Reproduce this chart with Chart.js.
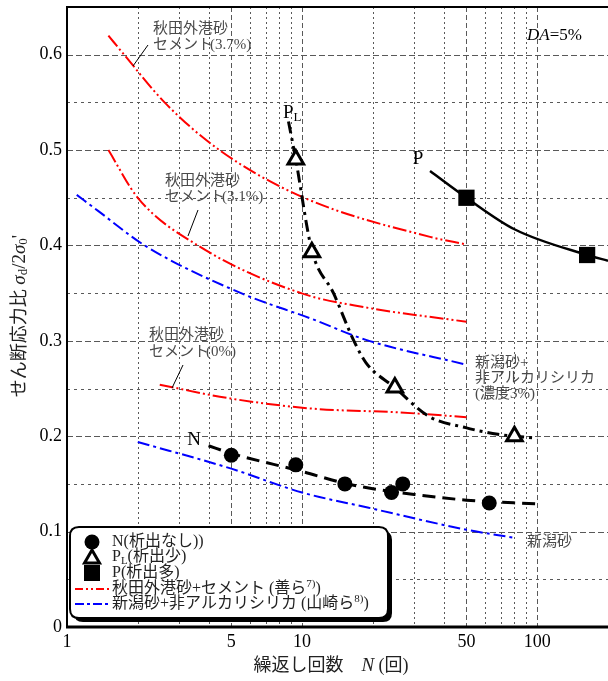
<!DOCTYPE html>
<html>
<head>
<meta charset="utf-8">
<script src="https://cdn.jsdelivr.net/npm/chart.js@4/dist/chart.umd.min.js"></script>
<style>
html, body { margin: 0; padding: 0; background: #fff; }
canvas { display: block; }
</style>
</head>
<body>
<canvas id="c" width="608" height="681"></canvas>
<script>
// ---- Axis ticks and grid positions ----
const tickN = [1, 5, 10, 50, 100];
const tickR = [0, 0.1, 0.2, 0.3, 0.4, 0.5, 0.6];
const gridMajorN = [5, 10, 50, 100];
const gridMinorN = [2, 3, 4, 6, 7, 8, 9, 20, 30, 40, 60, 70, 80, 90];
const gridMajorR = [0.1, 0.2, 0.3, 0.4, 0.5, 0.6];
const gridMinorR = [0.05, 0.15, 0.25, 0.35, 0.45, 0.55];

// ---- Test results: cycles N and stress ratio ----
const nPtsN = [5, 9.4, 15.2, 24, 26.8, 62.5];
const nPtsR = [0.18, 0.17, 0.15, 0.141, 0.15, 0.13];
const plPtsN = [9.4, 11, 24.8, 80];
const plPtsR = [0.49, 0.393, 0.251, 0.2];
const pPtsN = [50, 163];
const pPtsR = [0.45, 0.39];

// ---- Trend curves through the results ----
const nCurveN = [4, 5, 10, 15, 20, 30, 50, 100];
const nCurveR = [0.19, 0.182, 0.163, 0.151, 0.145, 0.139, 0.133, 0.129];
const plCurveN = [8.75, 9.4, 11, 13.6, 16.6, 18.7, 24.8, 34.5, 49.6, 68, 100];
const plCurveR = [0.53, 0.49, 0.395, 0.35, 0.3, 0.277, 0.251, 0.221, 0.209, 0.202, 0.198];
const pCurveN = [35, 50, 80, 163, 200];
const pCurveR = [0.478, 0.45, 0.417, 0.39, 0.384];

// ---- Akita port sand + cement (Zen et al.) ----
const akita37N = [1.5, 1.75, 2.6, 4.45, 10.2, 35, 50];
const akita37R = [0.62, 0.6, 0.55, 0.5, 0.45, 0.409, 0.401];
const akita31N = [1.5, 2.0, 3.6, 9.9, 18.7, 50];
const akita31R = [0.5, 0.45, 0.4, 0.35, 0.335, 0.32];
const akita0N = [2.48, 4.83, 11, 25.8, 50];
const akita0R = [0.254, 0.24, 0.229, 0.225, 0.22];

// ---- Niigata sand + non-alkali silica (Yamasaki et al.) ----
const niigata3N = [1.1, 1.36, 2.14, 5.5, 11, 18.7, 50];
const niigata3R = [0.453, 0.436, 0.4, 0.35, 0.323, 0.301, 0.275];
const niigataN = [2.0, 5, 10, 19.2, 50, 80];
const niigataR = [0.194, 0.166, 0.141, 0.125, 0.102, 0.0935];

const pts = (xs, ys) => xs.map((x, i) => ({ x: x, y: ys[i] }));

const SERIF = '"Liberation Serif", "Noto Sans CJK JP", serif';
const RED = '#ff0000';
const BLUE = '#0000ff';
const redDash = [14, 3, 2, 3, 2, 3];
const blueDash = [12, 4, 3, 4];

function curve(data, color, dash, width) {
  return {
    data: data, showLine: true, pointRadius: 0, borderColor: color,
    borderWidth: width, borderDash: dash, fill: false,
    cubicInterpolationMode: 'monotone'
  };
}

// draw consecutive text runs [text, font, dy]
function drawRuns(ctx, x, y, parts, align) {
  let w = 0;
  parts.forEach(p => { ctx.font = p[1]; w += ctx.measureText(p[0]).width; });
  let cx = align === 'center' ? x - w / 2 : x;
  ctx.textAlign = 'left';
  parts.forEach(p => {
    ctx.font = p[1];
    ctx.fillText(p[0], cx, y + (p[2] || 0));
    cx += ctx.measureText(p[0]).width;
  });
}

function line(ctx, x1, y1, x2, y2) {
  ctx.beginPath(); ctx.moveTo(x1, y1); ctx.lineTo(x2, y2); ctx.stroke();
}

function roundRect(ctx, x, y, w, h, r) {
  ctx.beginPath();
  ctx.moveTo(x + r, y);
  ctx.lineTo(x + w - r, y); ctx.quadraticCurveTo(x + w, y, x + w, y + r);
  ctx.lineTo(x + w, y + h - r); ctx.quadraticCurveTo(x + w, y + h, x + w - r, y + h);
  ctx.lineTo(x + r, y + h); ctx.quadraticCurveTo(x, y + h, x, y + h - r);
  ctx.lineTo(x, y + r); ctx.quadraticCurveTo(x, y, x + r, y);
  ctx.closePath();
}

const gridPlugin = {
  id: 'gridPlugin',
  beforeDatasetsDraw(chart) {
    const { ctx, chartArea: a, scales: { x, y } } = chart;
    ctx.save();
    ctx.strokeStyle = '#595959';
    ctx.lineWidth = 1;
    ctx.setLineDash([2, 3]);
    gridMinorN.forEach(v => { const px = Math.round(x.getPixelForValue(v)) + 0.5; line(ctx, px, a.top, px, a.bottom); });
    ctx.setLineDash([5, 3]);
    gridMajorN.forEach(v => { const px = Math.round(x.getPixelForValue(v)) + 0.5; line(ctx, px, a.top, px, a.bottom); });
    ctx.setLineDash([3, 4]);
    gridMinorR.forEach(v => { const py = Math.round(y.getPixelForValue(v)) + 0.5; line(ctx, a.left, py, a.right, py); });
    ctx.setLineDash([6, 3]);
    gridMajorR.forEach(v => { const py = Math.round(y.getPixelForValue(v)) + 0.5; line(ctx, a.left, py, a.right, py); });
    ctx.restore();
  },
  afterDatasetsDraw(chart) {
    const { ctx, chartArea: a } = chart;
    ctx.save();
    // frame
    ctx.setLineDash([]);
    ctx.strokeStyle = '#000';
    ctx.lineWidth = 2;
    line(ctx, a.left, a.top, a.right, a.top);
    line(ctx, a.left, a.top - 1, a.left, a.bottom);
    ctx.lineWidth = 3;
    line(ctx, a.left - 1, a.bottom, a.right, a.bottom);

    ctx.textBaseline = 'middle';
    // curve annotations
    ctx.fillStyle = '#4a4a4a';
    const jf = '15px ' + SERIF;
    drawRuns(ctx, 153, 29, [['秋田外港砂', jf]]);
    drawRuns(ctx, 153, 45, [['セメント', jf]]);
    drawRuns(ctx, 210, 45, [['(3.7%)', jf]]);
    drawRuns(ctx, 165, 181, [['秋田外港砂', jf]]);
    drawRuns(ctx, 165, 197, [['セメント', jf]]);
    drawRuns(ctx, 222, 197, [['(3.1%)', jf]]);
    drawRuns(ctx, 149, 335, [['秋田外港砂', jf]]);
    drawRuns(ctx, 149, 352, [['セメント', jf]]);
    drawRuns(ctx, 206, 352, [['(0%)', jf]]);
    drawRuns(ctx, 475, 363, [['新潟砂+', jf]]);
    drawRuns(ctx, 475, 378, [['非アルカリシリカ', jf]]);
    drawRuns(ctx, 475, 394, [['(濃度3%)', jf]]);
    drawRuns(ctx, 527, 542, [['新潟砂', jf]]);

    ctx.strokeStyle = '#000';
    ctx.lineWidth = 1;
    line(ctx, 148, 45, 133, 66);
    line(ctx, 198, 210, 188, 236);
    line(ctx, 183, 365, 172, 388);

    // series labels
    ctx.fillStyle = '#000';
    drawRuns(ctx, 194, 440, [['N', '19px ' + SERIF]], 'center');
    drawRuns(ctx, 283, 113, [['P', '19px ' + SERIF], ['L', '13px ' + SERIF, 5]]);
    drawRuns(ctx, 418, 159, [['P', '19px ' + SERIF]], 'center');
    drawRuns(ctx, 527, 36, [['DA', 'italic 17px ' + SERIF], ['=5%', '17px ' + SERIF]]);

    // legend box
    const lx = 70, ly = 527, lw = 318, lh = 91;
    ctx.fillStyle = '#000';
    roundRect(ctx, lx + 4, ly + 4, lw, lh, 9); ctx.fill();
    ctx.fillStyle = '#fff';
    roundRect(ctx, lx, ly, lw, lh, 9); ctx.fill();
    ctx.lineWidth = 2; ctx.strokeStyle = '#000';
    roundRect(ctx, lx, ly, lw, lh, 9); ctx.stroke();

    const rows = [542, 557, 573, 589, 604];
    const sx = 92;
    ctx.fillStyle = '#000';
    ctx.beginPath(); ctx.arc(sx, rows[0], 7.5, 0, Math.PI * 2); ctx.fill();
    ctx.lineWidth = 3;
    ctx.beginPath();
    ctx.moveTo(sx, rows[1] - 7); ctx.lineTo(sx + 7.5, rows[1] + 6); ctx.lineTo(sx - 7.5, rows[1] + 6);
    ctx.closePath(); ctx.fillStyle = '#fff'; ctx.fill(); ctx.stroke();
    ctx.fillStyle = '#000';
    ctx.fillRect(sx - 8, rows[2] - 8, 16, 16);
    ctx.lineWidth = 2;
    ctx.strokeStyle = RED; ctx.setLineDash([8, 3, 2, 3, 2, 3]);
    line(ctx, 75, rows[3], 111, rows[3]);
    ctx.strokeStyle = BLUE; ctx.setLineDash([9, 3, 3, 3]);
    line(ctx, 75, rows[4], 111, rows[4]);
    ctx.setLineDash([]);

    const lf = '16px ' + SERIF, sf = '11px ' + SERIF;
    ctx.fillStyle = '#222';
    drawRuns(ctx, 112, rows[0], [['N(析出なし))', lf]]);
    drawRuns(ctx, 112, rows[1], [['P', lf], ['L', sf, 4], ['(析出少)', lf]]);
    drawRuns(ctx, 112, rows[2], [['P(析出多)', lf]]);
    drawRuns(ctx, 112, rows[3], [['秋田外港砂+セメント (善ら', lf], ['7)', sf, -5], [')', lf]]);
    drawRuns(ctx, 112, rows[4], [['新潟砂+非アルカリシリカ (山崎ら', lf], ['8)', sf, -5], [')', lf]]);

    // axis titles
    ctx.fillStyle = '#222';
    drawRuns(ctx, 331, 666, [['繰返し回数　', '18px ' + SERIF], ['N', 'italic 19px ' + SERIF], [' (回)', '18px ' + SERIF]], 'center');
    ctx.translate(20, 316);
    ctx.rotate(-Math.PI / 2);
    drawRuns(ctx, 0, 0, [
      ['せん断応力比 ', '18px ' + SERIF],
      ['σ', 'italic 19px ' + SERIF], ['d', '13px ' + SERIF, 4],
      ['/2', '19px ' + SERIF],
      ['σ', 'italic 19px ' + SERIF], ['0', '13px ' + SERIF, 4], ['\'', '19px ' + SERIF]
    ], 'center');
    ctx.restore();
  }
};

new Chart(document.getElementById('c'), {
  type: 'scatter',
  data: {
    datasets: [
      { data: pts(pPtsN, pPtsR), pointStyle: 'rect', pointRadius: 11.5, backgroundColor: '#000', borderColor: '#000', borderWidth: 0 },
      { data: pts(plPtsN, plPtsR), pointStyle: 'triangle', pointRadius: 9, backgroundColor: '#fff', borderColor: '#000', borderWidth: 3 },
      { data: pts(nPtsN, nPtsR), pointStyle: 'circle', pointRadius: 7.5, backgroundColor: '#000', borderColor: '#000', borderWidth: 0 },
      curve(pts(pCurveN, pCurveR), '#000', [], 2.5),
      curve(pts(plCurveN, plCurveR), '#000', [12, 5, 3, 5], 3),
      curve(pts(nCurveN, nCurveR), '#000', [13, 7], 3),
      curve(pts(akita37N, akita37R), RED, redDash, 2),
      curve(pts(akita31N, akita31R), RED, redDash, 2),
      curve(pts(akita0N, akita0R), RED, redDash, 2),
      curve(pts(niigata3N, niigata3R), BLUE, blueDash, 2),
      curve(pts(niigataN, niigataR), BLUE, blueDash, 2)
    ]
  },
  options: {
    responsive: false,
    animation: false,
    devicePixelRatio: 1,
    events: [],
    layout: { autoPadding: false, padding: { top: 7, right: 0, left: 0, bottom: 0 } },
    plugins: { legend: { display: false }, tooltip: { enabled: false } },
    scales: {
      x: {
        type: 'logarithmic', min: 1, max: 200, position: 'bottom',
        afterFit: s => { s.height = 54; s.paddingLeft = 0; s.paddingRight = 0; },
        afterBuildTicks: s => { s.ticks = tickN.map(v => ({ value: v })); },
        grid: { display: false, drawTicks: false },
        border: { display: false },
        ticks: {
          autoSkip: false, maxRotation: 0, padding: 4, color: '#000',
          font: { family: 'Liberation Serif', size: 18 },
          callback: v => String(v)
        }
      },
      y: {
        type: 'linear', min: 0, max: 0.65,
        afterFit: s => { s.width = 67; s.paddingTop = 0; s.paddingBottom = 0; },
        afterBuildTicks: s => { s.ticks = tickR.map(v => ({ value: v })); },
        grid: { display: false, drawTicks: false },
        border: { display: false },
        ticks: {
          padding: 5, color: '#000',
          font: { family: 'Liberation Serif', size: 18 },
          callback: v => (v === 0 ? '0' : v.toFixed(1))
        }
      }
    }
  },
  plugins: [gridPlugin]
});
</script>
</body>
</html>
